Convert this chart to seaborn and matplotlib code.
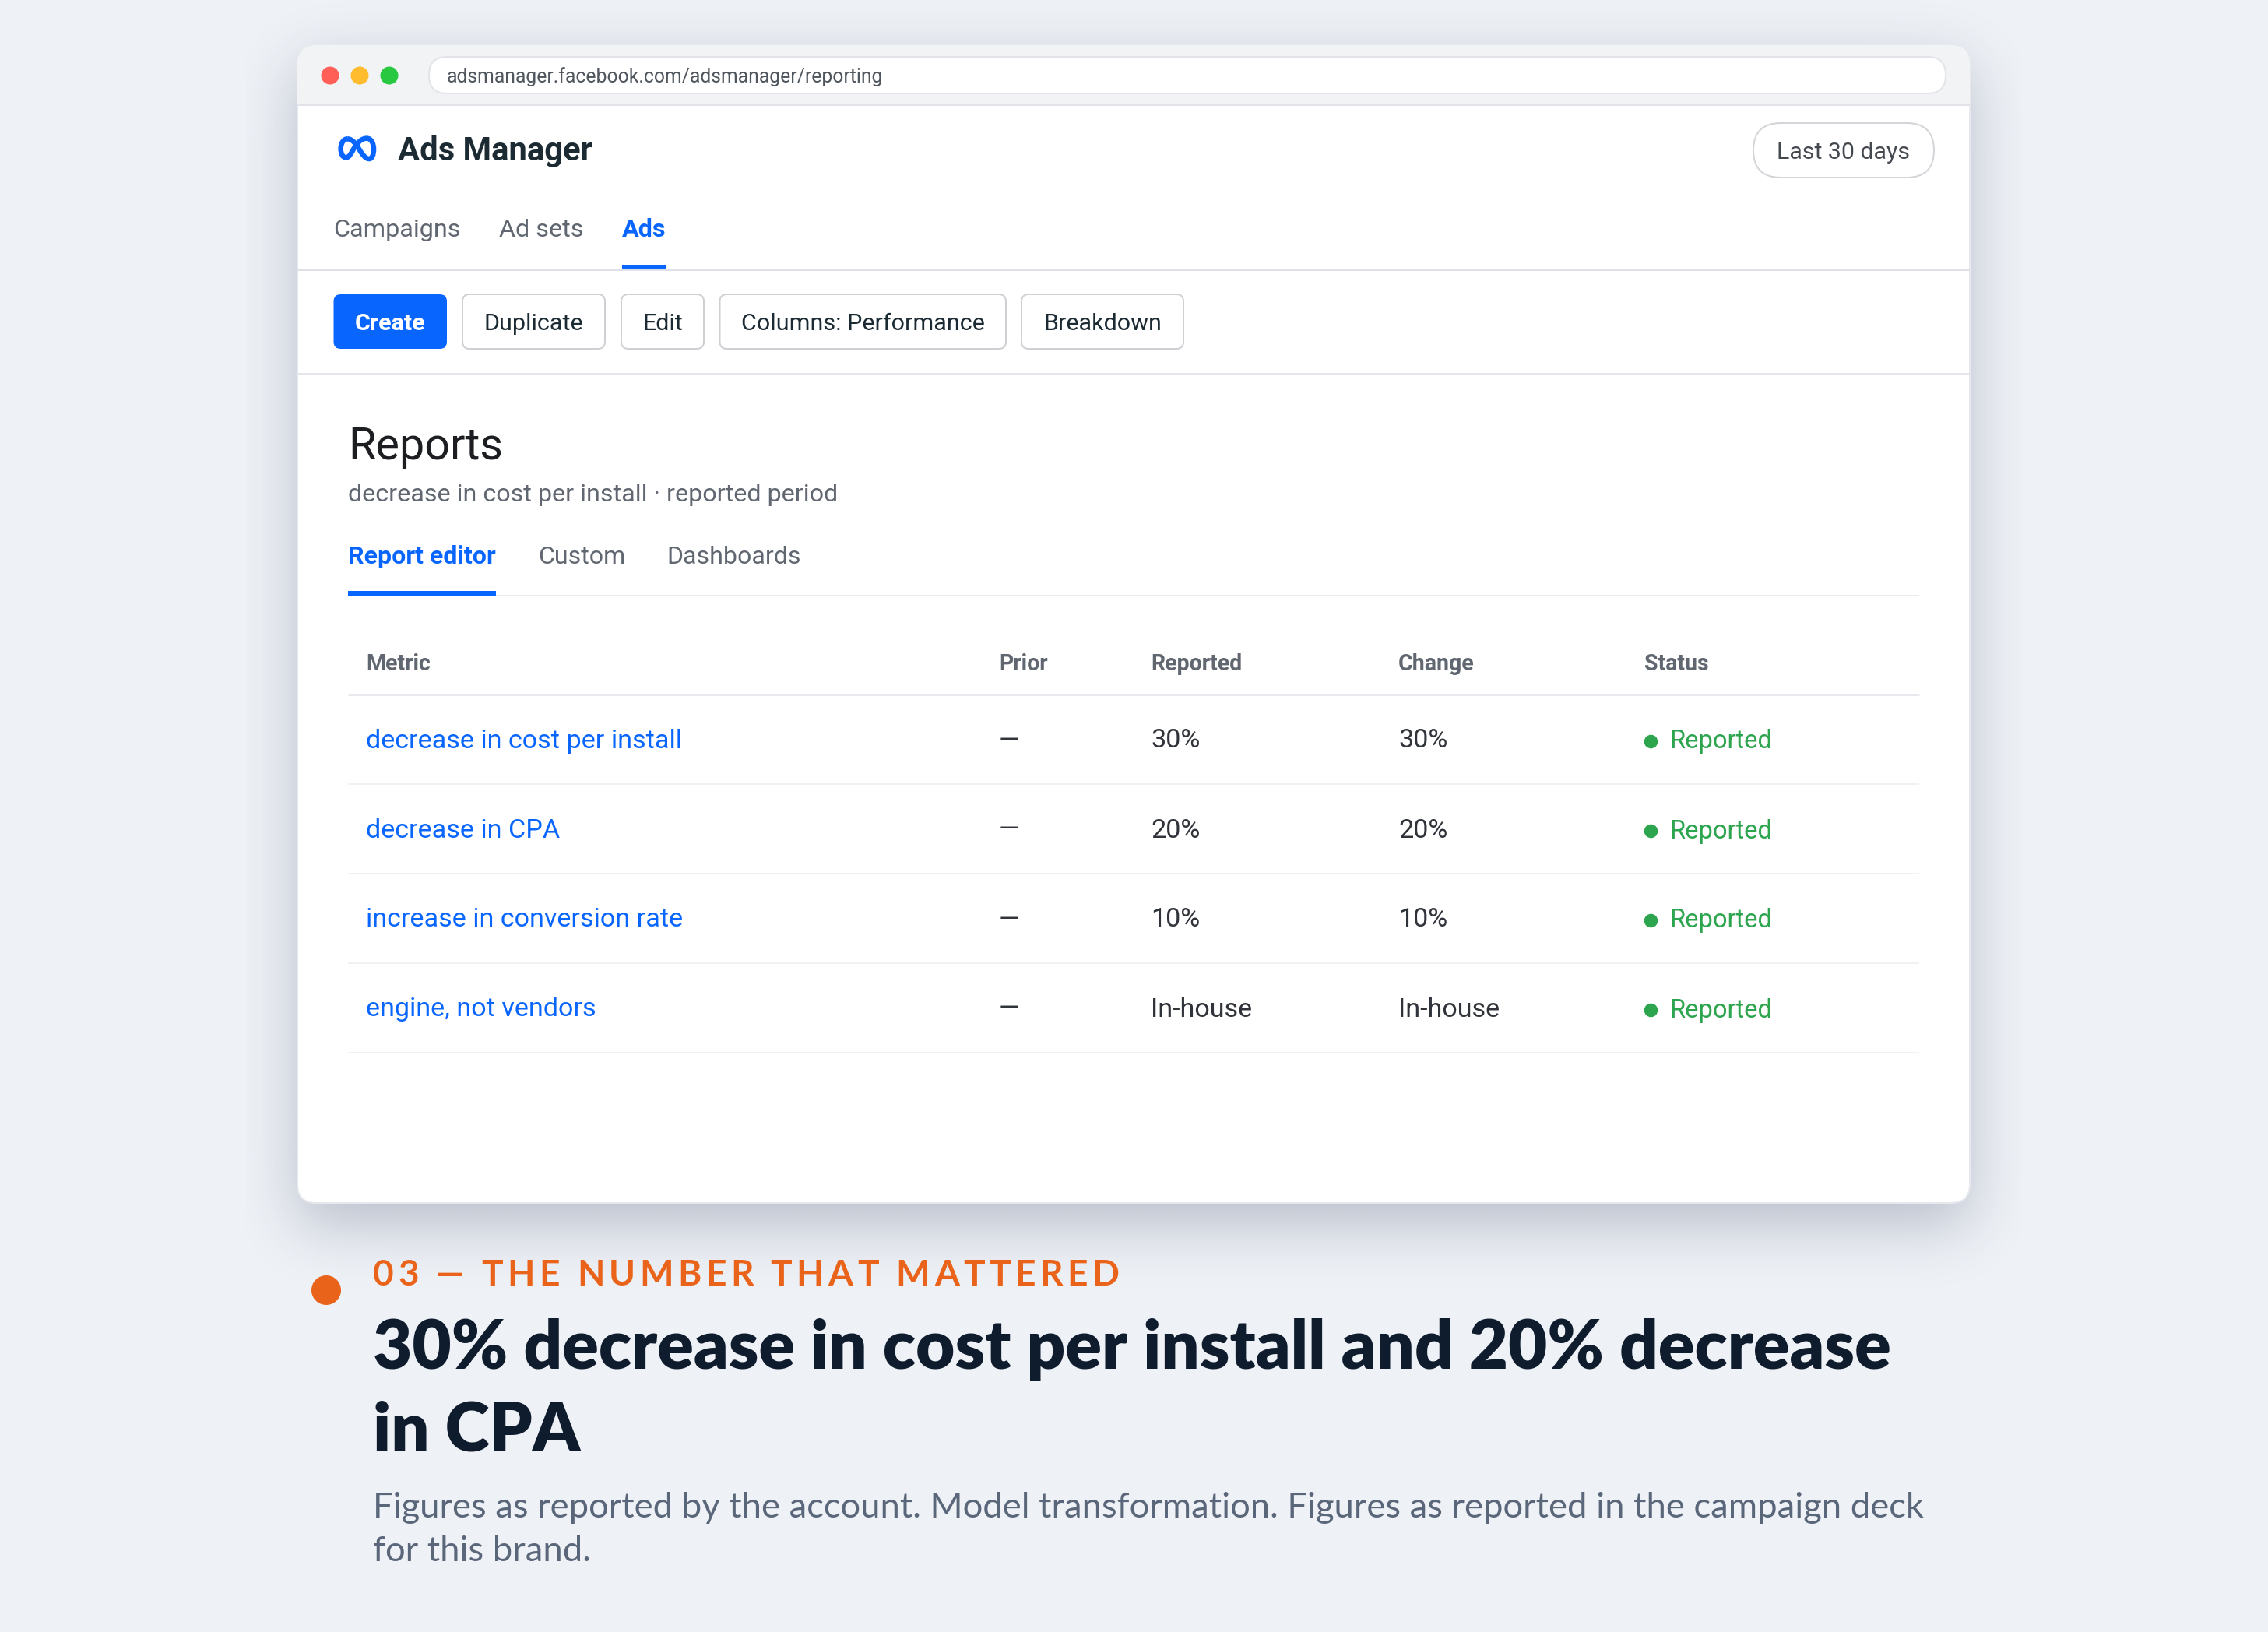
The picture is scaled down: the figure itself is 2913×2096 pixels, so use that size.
# Ads Manager report screen, drawn on a pixel canvas
import math
import pandas as pd
import numpy as np
import matplotlib
matplotlib.use("Agg")
import matplotlib.pyplot as plt
from matplotlib.patches import FancyBboxPatch, Rectangle, Circle, PathPatch
from matplotlib.colors import to_rgb
from matplotlib.path import Path
import seaborn as sns

# --- data ---
metrics = ["decrease in cost per install", "decrease in CPA",
           "increase in conversion rate", "engine, not vendors"]
prior = ["—", "—", "—", "—"]
reported = ["30%", "20%", "10%", "In-house"]
change = ["30%", "20%", "10%", "In-house"]
status = ["Reported", "Reported", "Reported", "Reported"]
columns = ["Metric", "Prior", "Reported", "Change", "Status"]
nav_tabs = ["Campaigns", "Ad sets", "Ads"]
buttons = ["Create", "Duplicate", "Edit", "Columns: Performance", "Breakdown"]
report_tabs = ["Report editor", "Custom", "Dashboards"]
url = "adsmanager.facebook.com/adsmanager/reporting"
eyebrow = "03 — THE NUMBER THAT MATTERED"
headline = ["30% decrease in cost per install and 20% decrease", "in CPA"]
body = ["Figures as reported by the account. Model transformation. Figures as reported in the campaign deck",
        "for this brand."]

# --- colours ---
BG = "#eef1f6"
BLUE = "#0866ff"
GREY = "#606770"
DARK = "#1c2b33"
CELL = "#30343a"
LINE = "#e8e9ed"
GREEN = "#2da44e"
ORANGE = "#e9641a"

W, H = 2913, 2096
sns.set_theme(style="white", rc={"figure.facecolor": BG, "axes.facecolor": BG})
plt.rcParams["font.family"] = ["Roboto", "DejaVu Sans"]

fig = plt.figure(figsize=(W / 100, H / 100), dpi=100)
ax = fig.add_axes([0, 0, 1, 1])
ax.set_xlim(0, W)
ax.set_ylim(H, 0)
ax.axis("off")


def px(size):
    # font size given in image pixels
    return size * 0.72


def label(x, y, s, size, color=DARK, weight="normal", family="Roboto", ha="left", z=10):
    return ax.text(x, y, s, fontsize=px(size), color=color, fontweight=weight,
                   family=family, ha=ha, va="baseline", zorder=z)


def rbox(x0, y0, x1, y1, r, fc, ec="none", lw=0, z=2, alpha=None):
    p = FancyBboxPatch((x0, y0), x1 - x0, y1 - y0, boxstyle=f"round,pad=0,rounding_size={r}",
                       fc=fc, ec=ec, lw=lw * 0.72, zorder=z, alpha=alpha)
    ax.add_patch(p)
    return p


def hline(x0, x1, y, color=LINE, lw=2.0, z=3):
    ax.plot([x0, x1], [y, y], color=color, lw=lw * 0.72, zorder=z, solid_capstyle="butt")


# card and its soft shadow
CL, CT, CR, CB = 382, 58, 2530, 1545
erf = np.vectorize(math.erf)


def edge(v, a, b, s):
    return 0.5 * (erf((v - a) / (s * 2 ** 0.5)) - erf((v - b) / (s * 2 ** 0.5)))


sx = np.arange(316, 2597, 2.0)
sy = np.arange(0, 1780, 2.0)
shade = np.outer(edge(sy, CT + 26, CB + 26, 38), edge(sx, CL, CR, 38)) * 0.26
rgba = np.zeros(shade.shape + (4,))
rgba[..., :3] = to_rgb("#1c2b4a")
rgba[..., 3] = shade
ax.imshow(rgba, extent=(316, 2596, 1780, 0), aspect="auto", zorder=1, interpolation="bilinear")
card = rbox(CL, CT, CR, CB, 24, "white", ec="#e6e8ed", lw=2, z=2)

# browser bar
bar = Rectangle((CL, CT), CR - CL, 75, fc="#f1f3f5", ec="none", zorder=3)
ax.add_patch(bar)
bar.set_clip_path(card)
hline(CL, CR, 134, color="#e2e4e9", lw=3)
for cx, col in zip([424, 462, 500], ["#ff5f57", "#febc2e", "#28c840"]):
    ax.add_patch(Circle((cx, 97), 11.5, fc=col, ec="none", zorder=4))
rbox(551, 73, 2499, 120, 23, "white", ec="#e2e4e9", lw=2, z=4)
label(574, 106, url, 24.8, color="#50565e")

# logo, one figure-eight stroke
logo_pts = [(64, 40), (48, 40), (38, 58), (38, 78), (38, 98), (46, 112), (58, 112),
            (72, 112), (80, 92), (88, 78), (100, 58), (116, 38), (138, 38),
            (156, 38), (165, 58), (165, 80), (165, 102), (158, 117), (148, 117),
            (132, 117), (122, 100), (112, 85), (96, 58), (82, 40), (64, 40)]
logo_xy = [(425 + a / 3, 165 + b / 3) for a, b in logo_pts]
logo_path = Path(logo_xy, [Path.MOVETO] + [Path.CURVE4] * (len(logo_xy) - 1))
ax.add_patch(PathPatch(logo_path, fc="none", ec=BLUE, lw=4.7, zorder=5))
label(511, 206, "Ads Manager", 41.8, weight="bold")

rbox(2252, 158, 2484, 228, 35, "white", ec="#d3d5d9", lw=2, z=4)
label(2368, 204, "Last 30 days", 30.3, color="#444950", ha="center")

# nav tabs
for x, s in zip([428, 641, 799], nav_tabs):
    active = s == "Ads"
    label(x, 304, s, 32.4, color=BLUE if active else GREY, weight="bold" if active else "normal")
ax.add_patch(Rectangle((799, 340), 57, 6, fc=BLUE, ec="none", zorder=5))
hline(CL, CR, 347, color="#dfe1e6", lw=2)

# toolbar
btn_x = [(428.5, 574), (594, 777), (798, 904), (924.5, 1292), (1312, 1520)]
for (x0, x1), s in zip(btn_x, buttons):
    first = s == "Create"
    rbox(x0, 378, x1, 448, 9, BLUE if first else "white", ec="none" if first else "#ced0d4",
         lw=0 if first else 2, z=4)
    label((x0 + x1) / 2, 424, s, 30.5, color="white" if first else DARK,
          weight="bold" if first else "normal", ha="center")
hline(CL, CR, 480, color="#e4e6eb", lw=2)

# report header
label(447, 590, "Reports", 57.5, color="#1c1e21")
label(447, 644, "decrease in cost per install · reported period", 32.3, color=GREY)
for x, s in zip([447, 691, 856], report_tabs):
    active = s == "Report editor"
    label(x, 724, s, 32.2, color=BLUE if active else GREY, weight="bold" if active else "normal")
hline(447, 2465, 765, color="#e8eaed", lw=2)
ax.add_patch(Rectangle((447, 759), 190, 6, fc=BLUE, ec="none", zorder=5))

# table
col_x = [470, 1283, 1478, 1796, 2112]
for x, s in zip(col_x, columns):
    label(x, 861, s, 28.5, color=GREY, weight="bold")
hline(447, 2465, 892, color="#e8e9ed", lw=3)

table = pd.DataFrame({"metric": metrics, "prior": prior, "reported": reported,
                      "change": change, "status": status})
row_top, row_h = 892, 115.0
table["row"] = np.arange(len(table))
table["mid"] = row_top + (table["row"] + 0.5) * row_h
for r in table.itertuples():
    base = r.mid + 11
    label(col_x[0], base, r.metric, 34.2, color=BLUE)
    label(col_x[1], base, r.prior, 34.2, color=CELL)
    label(col_x[2], base, r.reported, 34.2, color=CELL)
    label(col_x[3], base, r.change, 34.2, color=CELL)
    label(2144, base + 1, r.status, 32.6, color=GREEN)
    hline(447, 2465, row_top + (r.row + 1) * row_h, color="#f0f1f3", lw=2)

table["dot_x"] = 2120
table["dot_y"] = table["mid"] + 2
sns.scatterplot(data=table, x="dot_x", y="dot_y", ax=ax, color=GREEN, s=160,
                linewidth=0, legend=False, zorder=6)
ax.set_xlim(0, W)
ax.set_ylim(H, 0)
ax.axis("off")

# caption
ax.add_patch(Circle((419, 1657), 19, fc=ORANGE, ec="none", zorder=5))

rend = fig.canvas.get_renderer()


def text_w(s, size, weight):
    t = ax.text(0, 0, s, fontsize=px(size), family="Lato", fontweight=weight)
    w = t.get_window_extent(rend).width
    t.remove()
    return w


def spaced(x, y, s, size, color, weight, gap):
    # matplotlib has no letter spacing, so place the letters one by one
    for i, ch in enumerate(s):
        if ch == " ":
            continue
        off = text_w(s[:i + 1], size, weight) - text_w(ch, size, weight)
        label(x + off + i * gap, y, ch, size, color=color, weight=weight, family="Lato")


spaced(479, 1651, eyebrow, 46, ORANGE, "bold", 5.45)
for y, s in zip([1758, 1863], headline):
    label(479, y, s, 86.7, color="#0f1c2e", weight="heavy", family="Lato")
for y, s in zip([1949, 2005], body):
    label(479, y, s, 45.4, color="#5a6679", family="Lato")

fig.savefig("out.png", dpi=100, facecolor=BG)
